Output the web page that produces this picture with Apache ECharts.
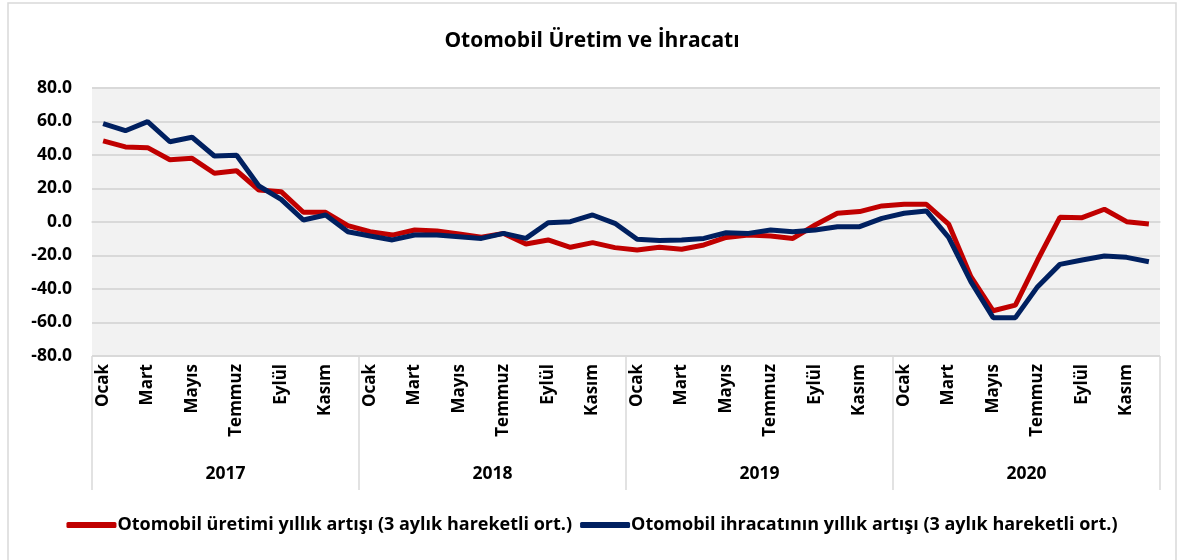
<!DOCTYPE html>
<html>
<head>
<meta charset="utf-8">
<script src="https://cdn.jsdelivr.net/npm/echarts@6/dist/echarts.min.js"></script>
<style>
  html, body { margin: 0; padding: 0; background: #fff; }
  #chart { width: 1184px; height: 560px; }
</style>
</head>
<body>
<div id="chart"></div>
<script>
const years = ['2017', '2018', '2019', '2020'];
const monthNames = ['Ocak', 'Şubat', 'Mart', 'Nisan', 'Mayıs', 'Haziran',
  'Temmuz', 'Ağustos', 'Eylül', 'Ekim', 'Kasım', 'Aralık'];
const months = years.flatMap(y => monthNames.map(m => m + ' ' + y));
const yTicks = { min: -80, max: 80, step: 20 };

// yıllık artış, 3 aylık hareketli ortalama (%)
const production = [
  48.4, 44.8, 44.4, 37.2, 38.0, 29.1, 30.6, 19.1, 18.1, 5.8, 5.8, -2.2,
  -5.8, -7.8, -4.8, -5.4, -7.2, -9.1, -6.8, -13.1, -10.7, -15.1, -12.3, -15.3,
  -16.7, -15.1, -16.3, -13.7, -9.2, -7.8, -8.4, -9.8, -1.8, 5.2, 6.2, 9.6,
  10.6, 10.6, -1.2, -32.6, -53.0, -49.6, -22.7, 2.8, 2.6, 7.6, 0.2, -1.2
];
const exports = [
  58.7, 54.5, 59.9, 47.9, 50.6, 39.4, 39.8, 21.5, 13.5, 1.2, 4.2, -5.8,
  -8.4, -10.7, -7.8, -7.8, -8.8, -9.8, -6.8, -9.8, -0.4, 0.2, 4.2, -0.8,
  -10.3, -11.1, -10.7, -9.8, -6.4, -6.8, -4.8, -5.8, -4.8, -2.8, -2.8, 2.2,
  5.2, 6.6, -9.2, -35.6, -57.1, -57.1, -38.6, -25.3, -22.7, -20.3, -21.1, -23.7
];
const seriesNames = [
  'Otomobil üretimi yıllık artışı (3 aylık hareketli ort.)',
  'Otomobil ihracatının yıllık artışı (3 aylık hareketli ort.)'
];

const font = '"Open Sans", Lato, sans-serif';
const grey = '#d9d9d9';
const chart = echarts.init(document.getElementById('chart'));

chart.setOption({
  animation: false,
  backgroundColor: '#fff',
  textStyle: { fontFamily: font },
  graphic: [{
    type: 'rect',
    shape: { x: 8, y: 3, width: 1168, height: 570 },
    style: { fill: 'none', stroke: grey, lineWidth: 1.5 },
    silent: true
  }],
  title: {
    text: 'Otomobil Üretim ve İhracatı',
    left: 'center',
    top: 26,
    textStyle: { fontFamily: font, fontSize: 21, fontWeight: 'bold', color: '#000' }
  },
  legend: {
    bottom: 21,
    left: 'center',
    icon: 'roundRect',
    itemWidth: 50,
    itemHeight: 6,
    itemGap: 8,
    textStyle: { fontFamily: font, fontSize: 18, fontWeight: 'bold', color: '#000', padding: [0, 0, 0, -4] },
    data: seriesNames
  },
  grid: {
    left: 92, right: 24, top: 88, bottom: 204,
    show: true, backgroundColor: '#f2f2f2', borderWidth: 0
  },
  xAxis: [{
    type: 'category',
    data: months,
    boundaryGap: true,
    axisLine: { lineStyle: { color: grey, width: 1.5 } },
    axisTick: { show: false },
    splitLine: { show: false },
    axisLabel: {
      interval: (i) => i % 2 === 0,
      rotate: 90,
      formatter: (v) => v.split(' ')[0],
      fontFamily: font, fontSize: 17, fontWeight: 'bold', color: '#000',
      margin: 8
    }
  }, {
    type: 'category',
    data: years,
    position: 'bottom',
    offset: 134,
    boundaryGap: true,
    axisLine: { show: false },
    splitLine: { show: false },
    axisTick: {
      show: true, inside: true, length: 134,
      lineStyle: { color: grey, width: 1.5 }
    },
    axisLabel: {
      inside: true, margin: 7,
      fontFamily: font, fontSize: 17.5, fontWeight: 'bold', color: '#000'
    }
  }],
  yAxis: {
    type: 'value',
    min: yTicks.min, max: yTicks.max, interval: yTicks.step,
    axisLine: { show: false },
    axisTick: { show: false },
    splitLine: { lineStyle: { color: grey, width: 2 } },
    axisLabel: {
      formatter: (v) => v.toFixed(1),
      fontFamily: font, fontSize: 17.5, fontWeight: 'bold', color: '#000',
      margin: 20
    }
  },
  series: [{
    name: seriesNames[0],
    type: 'line',
    data: production,
    showSymbol: false,
    lineStyle: { color: '#c00000', width: 5 },
    itemStyle: { color: '#c00000' },
    z: 2
  }, {
    name: seriesNames[1],
    type: 'line',
    data: exports,
    showSymbol: false,
    lineStyle: { color: '#002060', width: 5 },
    itemStyle: { color: '#002060' },
    z: 3
  }]
});
</script>
</body>
</html>
